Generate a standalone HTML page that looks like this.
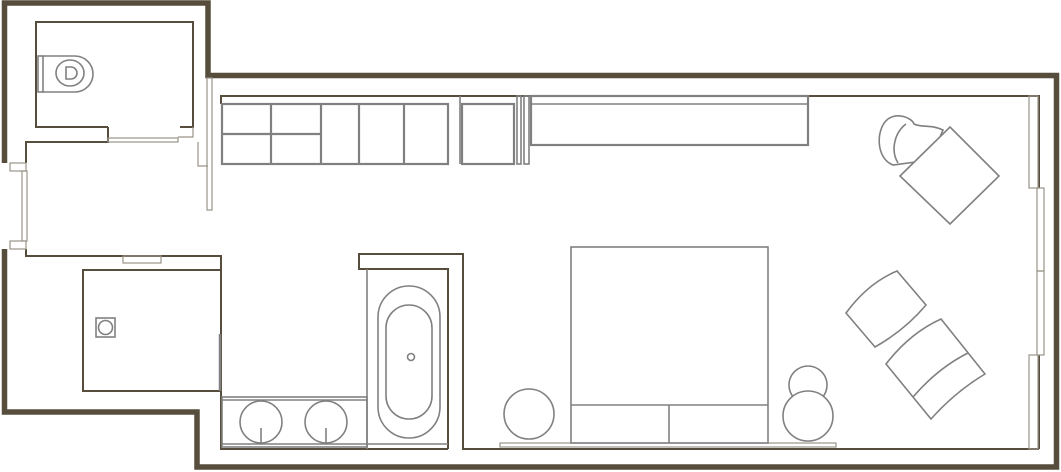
<!DOCTYPE html>
<html><head><meta charset="utf-8"><style>html,body{margin:0;padding:0;background:#fff}svg{display:block}</style></head>
<body>
<svg width="1061" height="472" viewBox="0 0 1061 472" xmlns="http://www.w3.org/2000/svg">
<g fill="none" stroke="#574d3c" stroke-width="5.5" stroke-linejoin="miter">
<path d="M4.5,163 V3 H208 V75.5 H1056.5 V467 H197 V412 H4.5 V249"/>
</g>
<g fill="none" stroke="#574d3c" stroke-width="2">
<path d="M108,127 H36 V22 H193 V127 H180"/>
<path d="M108,127 V142 H26 V163"/>
<path d="M26,249 V256 H221 V270"/>
<rect x="83" y="270" width="138" height="121"/>
<path d="M221,391 V449 H448"/>
<path d="M448,449 V269 H359 V254 H463 V449 H1039"/>
<path d="M221,104 V96 H1039 V188"/>
<path d="M1039,355 V449"/>
</g>
<g fill="none" stroke="#9a9488" stroke-width="1.2">
<rect x="108" y="138" width="70" height="4"/>
<path d="M178,137 H193 V127"/>
<path d="M198,142 V166 H208"/>
<rect x="207" y="78" width="5" height="132"/>
<rect x="10" y="163" width="16" height="8"/><rect x="10" y="241" width="16" height="8"/>
<rect x="22" y="171" width="5" height="70"/>
<rect x="123" y="256" width="38" height="7"/>
<rect x="1029" y="96" width="9" height="92"/><rect x="1029" y="355" width="9" height="94"/>
<rect x="1037" y="188" width="7" height="83"/><rect x="1037" y="271" width="7" height="84"/>
<rect x="500" y="443" width="336" height="4"/>
</g>
<g fill="none" stroke="#808080" stroke-width="1.6">
<rect x="38" y="56" width="5" height="36"/>
<path d="M43,56 H75 A18,18 0 0 1 75,92 H43"/>
<ellipse cx="70" cy="73" rx="14" ry="13"/>
<path d="M66,67 h5 a6,6 0 0 1 0,12 h-5 z"/>
<g stroke-width="2.2">
<rect x="222" y="104" width="226" height="60"/>
<line x1="271" y1="104" x2="271" y2="164"/>
<line x1="222" y1="134" x2="320" y2="134"/>
<line x1="321" y1="104" x2="321" y2="164"/>
<line x1="359" y1="104" x2="359" y2="164"/>
<line x1="404" y1="104" x2="404" y2="164"/>
<rect x="462" y="104" width="52" height="60"/>
<rect x="531" y="96" width="277" height="49"/>
</g>
<line x1="460" y1="96" x2="460" y2="164"/>
<rect x="517" y="96" width="4" height="68"/><rect x="524" y="96" width="5" height="68"/>
<line x1="531" y1="104" x2="808" y2="104"/>
<rect x="96" y="318" width="19" height="19"/>
<circle cx="105.5" cy="327.5" r="7"/>
<line x1="220" y1="334" x2="220" y2="391" stroke-width="2.5"/>
<rect x="222" y="397" width="145" height="50"/>
<line x1="222" y1="400" x2="367" y2="400"/>
<line x1="222" y1="444" x2="448" y2="444"/>
<circle cx="261" cy="422" r="21"/><circle cx="326" cy="422" r="21"/>
<line x1="261" y1="428" x2="261" y2="444"/><line x1="326" y1="428" x2="326" y2="444"/>
<line x1="367" y1="269" x2="367" y2="449"/>
<rect x="378" y="286" width="62" height="152" rx="31"/>
<rect x="386" y="305" width="46" height="114" rx="23"/>
<circle cx="411" cy="357" r="3.5"/>
<rect x="571" y="247" width="197" height="196"/>
<line x1="571" y1="405" x2="768" y2="405"/>
<line x1="669" y1="405" x2="669" y2="443"/>
<circle cx="529" cy="414" r="25"/>
<circle cx="808" cy="385" r="19"/>
<circle cx="808" cy="416" r="25" fill="#fff"/>
<path d="M893,165 C875,158 876,128 888,119 C898,112 912,118 914,124 C922,128 930,124 943,130 L930,160 Z" fill="#fff"/>
<path d="M898,163 C890,150 895,132 906,124"/>
<path d="M900,176 L950,127 L999,176 L950,224 Z" fill="#fff"/>
<path d="M846,313 Q868,283 897,271 L926,305 Q905,330 875,347 Z"/>
<path d="M886,364 Q910,333 941,319 L985,374 Q955,392 931,419 Z"/>
<path d="M913,397 Q938,368 968,353"/>
</g>
</svg>
</body></html>
